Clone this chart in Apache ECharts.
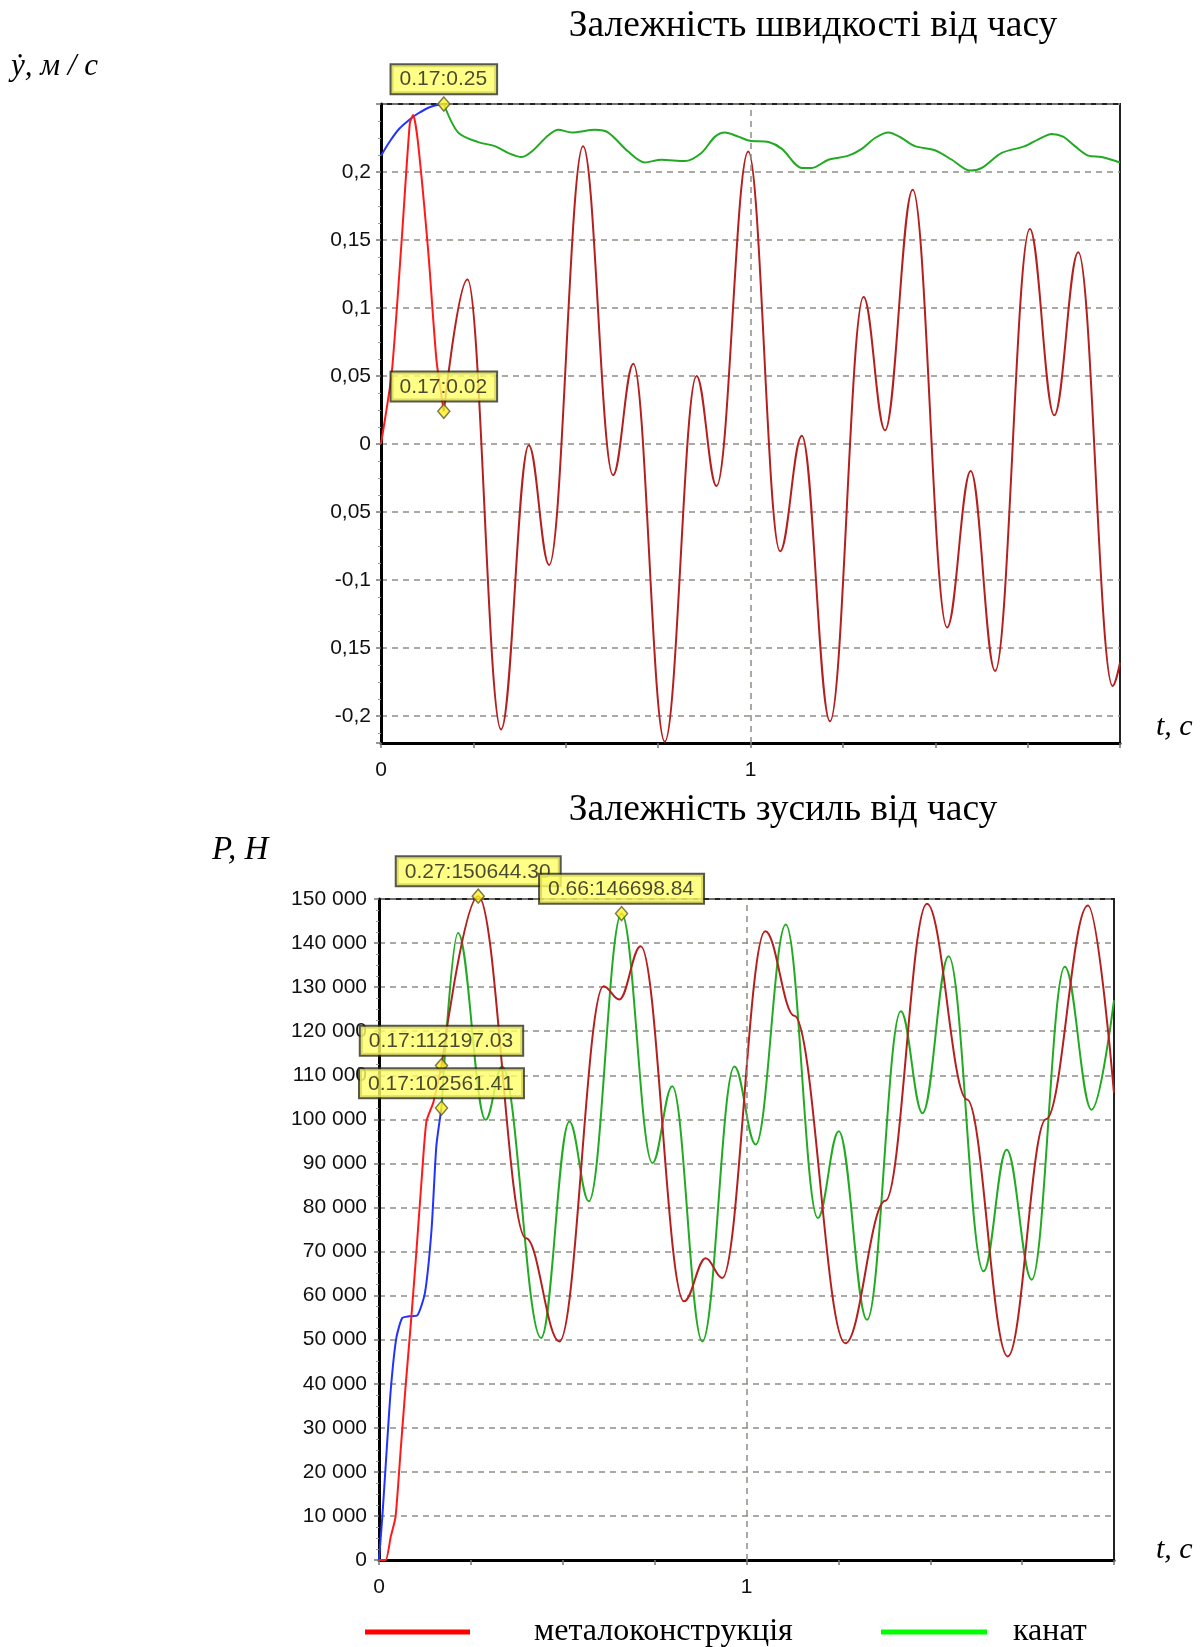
<!DOCTYPE html>
<html>
<head>
<meta charset="utf-8">
<script src="https://cdn.jsdelivr.net/npm/echarts@6/dist/echarts.min.js"></script>
<style>
  html, body { margin: 0; padding: 0; background: #fff; }
  #chart { width: 1203px; height: 1647px; }
</style>
</head>
<body>
<div id="chart"></div>
<script>
// ---- Velocity ẏ(t), m/s ----
// rope, acceleration stage
const speedRopeAccelT = [0, 0.025, 0.05, 0.075, 0.1, 0.135, 0.17];
const speedRopeAccelV = [0.212, 0.223, 0.232, 0.238, 0.243, 0.248, 0.25];
// steel structure, acceleration stage
const speedFrameAccelT = [0, 0.029, 0.056, 0.078, 0.087, 0.1, 0.128, 0.15, 0.17];
const speedFrameAccelV = [0, 0.052, 0.15, 0.236, 0.242, 0.222, 0.141, 0.062, 0.024];
// rope, after the stage switch
const speedRopeT = [0.17, 0.209, 0.263, 0.308, 0.344, 0.381, 0.408, 0.453, 0.48, 0.516, 0.579, 0.615,
  0.669, 0.714, 0.759, 0.822, 0.867, 0.904, 0.931, 0.967, 0.998, 1.049, 1.085, 1.139, 1.166, 1.211,
  1.265, 1.301, 1.337, 1.373, 1.409, 1.445, 1.499, 1.545, 1.594, 1.626, 1.68, 1.743, 1.779, 1.815,
  1.846, 1.878, 1.914, 1.95, 2.0];
const speedRopeV = [0.25, 0.229, 0.222, 0.219, 0.214, 0.211, 0.215, 0.227, 0.231, 0.229, 0.231, 0.229,
  0.215, 0.207, 0.209, 0.208, 0.214, 0.226, 0.229, 0.226, 0.223, 0.222, 0.217, 0.203, 0.203, 0.209,
  0.212, 0.217, 0.225, 0.229, 0.225, 0.219, 0.216, 0.209, 0.201, 0.203, 0.214, 0.219, 0.224, 0.228,
  0.226, 0.219, 0.212, 0.211, 0.207];
// steel structure, after the stage switch (turning points)
const speedFrameT = [0.17, 0.234, 0.325, 0.4, 0.455, 0.547, 0.628, 0.683, 0.768, 0.854, 0.908, 0.994,
  1.08, 1.139, 1.215, 1.306, 1.364, 1.439, 1.532, 1.596, 1.662, 1.756, 1.822, 1.887, 1.98, 2.0];
const speedFrameV = [0.024, 0.121, -0.21, -0.001, -0.089, 0.219, -0.023, 0.059, -0.219, 0.05, -0.031, 0.215,
  -0.079, 0.006, -0.204, 0.108, 0.01, 0.187, -0.135, -0.02, -0.167, 0.158, 0.021, 0.141, -0.178, -0.161];
// marked points
const speedMarkT = [0.17, 0.17];
const speedMarkV = [0.25, 0.024];
// tick labels of the velocity axis
const speedTickValues = [-0.2, -0.15, -0.1, -0.05, 0, 0.05, 0.1, 0.15, 0.2];
const speedTickLabels = ['-0,2', '0,15', '-0,1', '0,05', '0', '0,05', '0,1', '0,15', '0,2'];

// ---- Force P(t), N ----
const forceRopeAccelT = [0, 0.009, 0.018, 0.032, 0.047, 0.063, 0.082, 0.104, 0.125, 0.143, 0.156, 0.17];
const forceRopeAccelV = [0, 9800, 21200, 38600, 50300, 54900, 55300, 55500, 60600, 75000, 93900, 102561.41];
const forceFrameAccelT = [0, 0.018, 0.032, 0.045, 0.059, 0.073, 0.086, 0.1, 0.116, 0.129, 0.148, 0.17];
const forceFrameAccelV = [0, 0, 5300, 9800, 25000, 40100, 53000, 68000, 86300, 99500, 103900, 112197.03];
const forceRopeT = [0.17, 0.215, 0.29, 0.335, 0.441, 0.518, 0.571, 0.66, 0.744, 0.798, 0.88, 0.967, 1.025,
  1.107, 1.194, 1.251, 1.328, 1.42, 1.479, 1.55, 1.645, 1.708, 1.776, 1.866, 1.939, 2.0];
const forceRopeV = [102561.41, 142300, 99900, 112000, 50400, 99500, 81400, 146698.84, 90100, 107500, 49600,
  112000, 94300, 144200, 77600, 97300, 54500, 124500, 101400, 137000, 65500, 93100, 63600, 134600, 102200, 127000];
const forceFrameT = [0.17, 0.27, 0.4, 0.491, 0.611, 0.654, 0.712, 0.83, 0.889, 0.934, 1.051, 1.13, 1.269,
  1.378, 1.491, 1.6, 1.711, 1.815, 1.929, 2.0];
const forceFrameV = [112197.03, 150644.3, 73000, 49600, 130200, 127200, 139300, 58700, 68500, 64000, 142700,
  123500, 49200, 81500, 148900, 104500, 46200, 100000, 148500, 106000];
const forceMarkT = [0.27, 0.66, 0.17, 0.17];
const forceMarkV = [150644.3, 146698.84, 112197.03, 102561.41];

// time axis labels (only whole seconds are labelled)
const timeTickValues = [0, 1];
const timeTickLabels = ['0', '1'];

const zip = (ts, vs) => ts.map((t, i) => [t, vs[i]]);
const near = (a, b) => Math.abs(a - b) < 1e-9;

const COL_FRAME_ACC = '#ff1a1a';
const COL_FRAME = '#b3201f';
const COL_ROPE_ACC = '#2233ff';
const COL_ROPE = '#22aa22';
const GRID_DASH = { type: [6, 5], color: '#8f8f86', width: 1.5 };
const SANS = '"Liberation Sans", Arial, sans-serif';
const SERIF = '"Liberation Serif", "Times New Roman", serif';
const TICK_FONT = 21;

function timeLabel(v) {
  for (let i = 0; i < timeTickValues.length; i++) if (near(v, timeTickValues[i])) return timeTickLabels[i];
  return '';
}
function speedLabel(v) {
  for (let i = 0; i < speedTickValues.length; i++) if (near(v, speedTickValues[i])) return speedTickLabels[i];
  return '';
}
function forceLabel(v) {
  const s = String(Math.round(v));
  return s.replace(/\B(?=(\d{3})+(?!\d))/g, ' ');
}

function xAxisCfg(gi) {
  return {
    gridIndex: gi, type: 'value', min: 0, max: 2, interval: 0.25,
    axisLine: { show: true, onZero: false, lineStyle: { color: '#000', width: 3 } },
    axisTick: { show: true, length: 5, lineStyle: { color: '#777', width: 1.5 } },
    axisLabel: { formatter: timeLabel, margin: 17, fontSize: TICK_FONT, color: '#111', fontFamily: SANS },
    splitLine: { show: false }
  };
}
function yAxisCfg(gi, extra) {
  return Object.assign({
    gridIndex: gi, type: 'value',
    axisLine: { show: true, onZero: false, lineStyle: { color: '#000', width: 3 } },
    axisTick: { show: true, length: 5, lineStyle: { color: '#777', width: 1.5 } },
    minorTick: { show: true, splitNumber: 4, length: 3, lineStyle: { color: '#999', width: 1 } },
    splitLine: { show: true, lineStyle: GRID_DASH }
  }, extra);
}
function lineSeries(name, gi, ts, vs, color, extra) {
  return Object.assign({
    type: 'line', name, xAxisIndex: gi, yAxisIndex: gi, data: zip(ts, vs),
    showSymbol: false, symbol: 'none', smooth: 0.3,
    lineStyle: { color, width: 2 }, itemStyle: { color }, z: 3
  }, extra);
}
function oneSecondLine() {
  return {
    silent: true, symbol: ['none', 'none'], label: { show: false },
    lineStyle: GRID_DASH, data: [{ xAxis: 1 }]
  };
}
function markSeries(gi, ts, vs) {
  return {
    type: 'scatter', xAxisIndex: gi, yAxisIndex: gi, data: zip(ts, vs), clip: false, z: 10,
    symbol: 'diamond', symbolSize: [12, 14],
    itemStyle: { color: '#fff21f', borderColor: '#5d5a2c', borderWidth: 1.5 },
    label: {
      show: true, position: 'top', distance: 3,
      formatter: p => p.value[0].toFixed(2) + ':' + p.value[1].toFixed(2),
      backgroundColor: '#ffff66', borderColor: '#2d2d1e', borderWidth: 2,
      padding: [4, 9, 3, 8], fontSize: 21, color: '#1c1c1c', fontFamily: SANS
    }
  };
}

const chart = echarts.init(document.getElementById('chart'), null, { renderer: 'canvas' });
chart.setOption({
  animation: false,
  backgroundColor: '#fff',
  grid: [
    { left: 381, top: 104, width: 739, height: 639, show: true, backgroundColor: '#fff', borderColor: '#222', borderWidth: 2 },
    { left: 379, top: 899, width: 735, height: 661, show: true, backgroundColor: '#fff', borderColor: '#222', borderWidth: 2 }
  ],
  xAxis: [xAxisCfg(0), xAxisCfg(1)],
  yAxis: [
    yAxisCfg(0, {
      min: -0.22, max: 0.25, splitNumber: 9,
      axisLabel: { formatter: speedLabel, margin: 10, fontSize: TICK_FONT, color: '#111', fontFamily: SANS }
    }),
    yAxisCfg(1, {
      min: 0, max: 150000, interval: 10000,
      axisLabel: { formatter: forceLabel, margin: 12, fontSize: TICK_FONT, color: '#111', fontFamily: SANS }
    })
  ],
  legend: [
    {
      left: 365, top: 1616, padding: 0, selectedMode: false, icon: 'rect', itemWidth: 105, itemHeight: 5,
      data: [{ name: 'металоконструкція', itemStyle: { color: '#ff0000' } }],
      textStyle: { fontFamily: SERIF, fontSize: 32, color: '#000', padding: [0, 0, 0, 59] }
    },
    {
      left: 881, top: 1616, padding: 0, selectedMode: false, icon: 'rect', itemWidth: 106, itemHeight: 5,
      data: [{ name: 'канат', itemStyle: { color: '#00ff00' } }],
      textStyle: { fontFamily: SERIF, fontSize: 32, color: '#000', padding: [0, 0, 0, 21] }
    }
  ],
  series: [
    // velocity
    lineSeries('канат', 0, speedRopeAccelT, speedRopeAccelV, COL_ROPE_ACC, { markLine: oneSecondLine() }),
    lineSeries('канат', 0, speedRopeT, speedRopeV, COL_ROPE),
    lineSeries('металоконструкція', 0, speedFrameAccelT, speedFrameAccelV, COL_FRAME_ACC, { smooth: 0.2 }),
    lineSeries('металоконструкція', 0, speedFrameT, speedFrameV, COL_FRAME, { smooth: 0.38, smoothMonotone: 'x' }),
    markSeries(0, speedMarkT, speedMarkV),
    // force
    lineSeries('канат', 1, forceRopeAccelT, forceRopeAccelV, COL_ROPE_ACC, { smooth: 0.2, markLine: oneSecondLine() }),
    lineSeries('металоконструкція', 1, forceFrameAccelT, forceFrameAccelV, COL_FRAME_ACC, { smooth: 0.2 }),
    lineSeries('канат', 1, forceRopeT, forceRopeV, COL_ROPE, { smooth: 0.38, smoothMonotone: 'x' }),
    lineSeries('металоконструкція', 1, forceFrameT, forceFrameV, COL_FRAME, { smooth: 0.38, smoothMonotone: 'x', clip: false }),
    markSeries(1, forceMarkT, forceMarkV)
  ],
  graphic: [
    { type: 'text', x: 813, y: 26, style: { text: 'Залежність швидкості від часу', font: '37.5px ' + SERIF, fill: '#000', align: 'center', verticalAlign: 'middle' } },
    { type: 'text', x: 783, y: 810, style: { text: 'Залежність зусиль від часу', font: '37.5px ' + SERIF, fill: '#000', align: 'center', verticalAlign: 'middle' } },
    { type: 'text', x: 11, y: 67, style: { text: 'ẏ, м / с', font: 'italic 31px ' + SERIF, fill: '#000', align: 'left', verticalAlign: 'middle' } },
    { type: 'text', x: 212, y: 850, style: { text: 'P, Н', font: 'italic 33px ' + SERIF, fill: '#000', align: 'left', verticalAlign: 'middle' } },
    { type: 'text', x: 1156, y: 727, style: { text: 't, с', font: 'italic 30px ' + SERIF, fill: '#000', align: 'left', verticalAlign: 'middle' } },
    { type: 'text', x: 1156, y: 1550, style: { text: 't, с', font: 'italic 30px ' + SERIF, fill: '#000', align: 'left', verticalAlign: 'middle' } }
  ]
});
</script>
</body>
</html>
